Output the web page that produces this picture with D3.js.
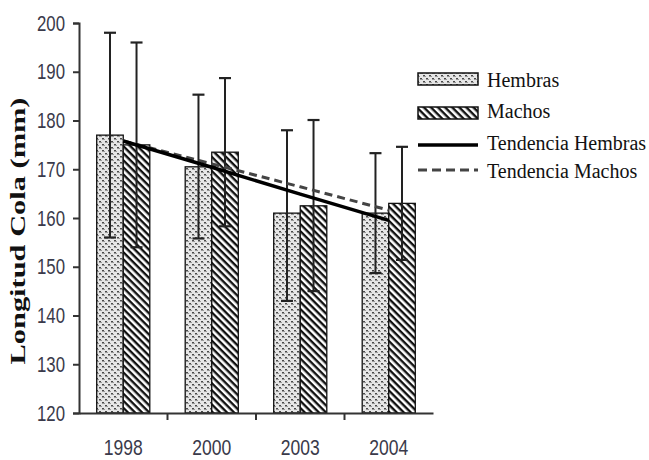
<!DOCTYPE html>
<html>
<head>
<meta charset="utf-8">
<script src="https://cdn.jsdelivr.net/npm/d3@7"></script>
<style>
  html, body { margin: 0; padding: 0; background: #fff; }
  svg { display: block; }
</style>
</head>
<body>
<svg id="chart" width="649" height="460"></svg>
<script>
// ---- data ----
const categories = ["1998", "2000", "2003", "2004"];
const hembras = [177, 170.5, 161, 161];
const machos = [175, 173.5, 162.5, 163];
const hembrasUpper = [198, 185.3, 178, 173.3];
const hembrasLower = [156, 155.8, 143, 148.7];
const machosUpper = [196, 188.7, 180.1, 174.6];
const machosLower = [154, 158.3, 145, 151.4];
const trendHembras = [175.8, 170.4, 164.9, 159.5];
const trendMachos = [175.8, 171.1, 166.4, 161.6];
const yTicks = [120, 130, 140, 150, 160, 170, 180, 190, 200];
const legendLabels = ["Hembras", "Machos", "Tendencia Hembras", "Tendencia Machos"];
const yTitle = "Longitud Cola (mm)";

const svg = d3.select("#chart");

// ---- patterns ----
const defs = svg.append("defs");
const pH = defs.append("pattern").attr("id", "pHembras")
  .attr("patternUnits", "userSpaceOnUse").attr("width", 6).attr("height", 6);
pH.append("rect").attr("width", 6).attr("height", 6).attr("fill", "#e6e6e6");
pH.append("rect").attr("x", 0).attr("y", 0).attr("width", 2).attr("height", 1.5).attr("fill", "#4a4a4a");
pH.append("rect").attr("x", 3).attr("y", 3).attr("width", 2).attr("height", 1.5).attr("fill", "#4a4a4a");
pH.append("rect").attr("x", 2).attr("y", 1).attr("width", 1).attr("height", 1).attr("fill", "#999");
pH.append("rect").attr("x", 5).attr("y", 4).attr("width", 1).attr("height", 1).attr("fill", "#999");

const pM = defs.append("pattern").attr("id", "pMachos")
  .attr("patternUnits", "userSpaceOnUse").attr("width", 5).attr("height", 5)
  .attr("patternTransform", "rotate(45)");
pM.append("rect").attr("width", 5).attr("height", 5).attr("fill", "#fff");
pM.append("rect").attr("x", 0).attr("y", 0).attr("width", 5).attr("height", 2.4).attr("fill", "#111");

// ---- scales ----
const x0 = d3.scaleBand().domain(categories).range([79, 433]).paddingInner(0.4).paddingOuter(0.2);
const x1 = d3.scaleBand().domain(["H", "M"]).range([0, x0.bandwidth()]);
const y = d3.scaleLinear().domain([120, 200]).range([413, 23]);

const g = svg.append("g");

// ---- bars ----
categories.forEach((c, i) => {
  g.append("rect")
    .attr("x", x0(c) + x1("H")).attr("y", y(hembras[i]))
    .attr("width", x1.bandwidth()).attr("height", y(120) - y(hembras[i]))
    .attr("fill", "url(#pHembras)").attr("stroke", "#111").attr("stroke-width", 1.3);
  g.append("rect")
    .attr("x", x0(c) + x1("M")).attr("y", y(machos[i]))
    .attr("width", x1.bandwidth()).attr("height", y(120) - y(machos[i]))
    .attr("fill", "url(#pMachos)").attr("stroke", "#111").attr("stroke-width", 1.3);
});

// ---- error bars ----
function errBar(cx, lo, hi) {
  g.append("line").attr("x1", cx).attr("x2", cx).attr("y1", y(lo)).attr("y2", y(hi))
    .attr("stroke", "#222").attr("stroke-width", 2);
  [lo, hi].forEach(v => g.append("line").attr("x1", cx - 6).attr("x2", cx + 6)
    .attr("y1", y(v)).attr("y2", y(v)).attr("stroke", "#222").attr("stroke-width", 2.2));
}
categories.forEach((c, i) => {
  errBar(x0(c) + x1("H") + x1.bandwidth() / 2, hembrasLower[i], hembrasUpper[i]);
  errBar(x0(c) + x1("M") + x1.bandwidth() / 2, machosLower[i], machosUpper[i]);
});

// ---- trend lines ----
const line = d3.line().x((d, i) => x0(categories[i]) + x0.bandwidth() / 2).y(d => y(d));
g.append("path").datum(trendMachos).attr("d", line).attr("fill", "none")
  .attr("stroke", "#444").attr("stroke-width", 3).attr("stroke-dasharray", "8,5");
g.append("path").datum(trendHembras).attr("d", line).attr("fill", "none")
  .attr("stroke", "#000").attr("stroke-width", 3.5);

// ---- axes ----
const yAxis = svg.append("g").attr("transform", "translate(79,0)")
  .call(d3.axisLeft(y).tickValues(yTicks).tickSize(6).tickPadding(8));
yAxis.select(".domain").attr("stroke", "#333").attr("stroke-width", 2);
yAxis.selectAll(".tick line").attr("stroke", "#333").attr("stroke-width", 2);
yAxis.selectAll(".tick text")
  .attr("font-family", "'Liberation Sans', Arial, sans-serif").attr("font-size", 22)
  .attr("fill", "#3a3a4a").attr("textLength", 28).attr("lengthAdjust", "spacingAndGlyphs");

const xAxis = svg.append("g").attr("transform", "translate(0,413)")
  .call(d3.axisBottom(x0).tickSize(0).tickPadding(26).tickSizeOuter(0));
xAxis.select(".domain").attr("stroke", "#333").attr("stroke-width", 2);
xAxis.selectAll(".tick text")
  .attr("font-family", "'Liberation Sans', Arial, sans-serif").attr("font-size", 22)
  .attr("fill", "#3a3a4a").attr("textLength", 39).attr("lengthAdjust", "spacingAndGlyphs");
// boundary ticks between categories
categories.slice(1).forEach(c => {
  const bx = x0(c) - x0.step() * x0.paddingInner() / 2;
  xAxis.append("line").attr("x1", bx).attr("x2", bx).attr("y1", 0).attr("y2", 7)
    .attr("stroke", "#333").attr("stroke-width", 2);
});

// ---- y title ----
svg.append("text").attr("transform", "translate(25,231) rotate(-90)")
  .attr("text-anchor", "middle")
  .attr("font-family", "'Liberation Serif', 'Times New Roman', serif")
  .attr("font-weight", "bold").attr("font-size", 20)
  .attr("textLength", 267).attr("lengthAdjust", "spacingAndGlyphs")
  .attr("fill", "#111").text(yTitle);

// ---- legend ----
const lg = svg.append("g");
const lx = 418, lw = 60, tx = 487;
const baselines = [87, 118, 150, 178];
lg.append("rect").attr("x", lx).attr("y", 73).attr("width", lw).attr("height", 12)
  .attr("fill", "url(#pHembras)").attr("stroke", "#111").attr("stroke-width", 1.5);
lg.append("rect").attr("x", lx).attr("y", 107).attr("width", lw).attr("height", 12)
  .attr("fill", "url(#pMachos)").attr("stroke", "#111").attr("stroke-width", 1.5);
lg.append("line").attr("x1", lx).attr("x2", lx + lw).attr("y1", 145).attr("y2", 145)
  .attr("stroke", "#000").attr("stroke-width", 3.5);
lg.append("line").attr("x1", lx).attr("x2", lx + lw).attr("y1", 170).attr("y2", 170)
  .attr("stroke", "#444").attr("stroke-width", 3).attr("stroke-dasharray", "9,5");
legendLabels.forEach((t, i) => {
  lg.append("text").attr("x", tx).attr("y", baselines[i])
    .attr("font-family", "'Liberation Serif', 'Times New Roman', serif")
    .attr("font-size", 20).attr("fill", "#111").text(t);
});
</script>
</body>
</html>
